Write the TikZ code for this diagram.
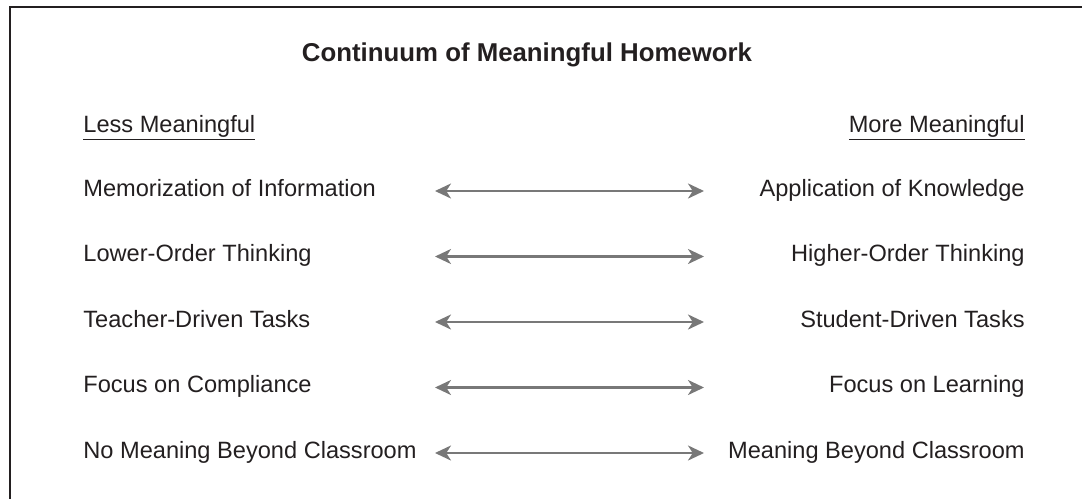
\documentclass[tikz,border=0pt]{standalone}
\usepackage{fontspec}
\setmainfont{Liberation Sans}
\usepackage{xcolor}
\usetikzlibrary{arrows.meta}
\definecolor{inkgray}{HTML}{231F20}
\definecolor{arrowgray}{HTML}{787878}
\tikzset{
  lbl/.style={inner sep=0pt, text=inkgray, font=\fontsize{11.8}{14}\selectfont,
    text height=0.72em, text depth=0.21em},
  ttl/.style={inner sep=0pt, text=inkgray, font=\fontsize{12.9}{15}\selectfont\bfseries},
  biarrow/.style={arrowgray, line width=1.25pt,
    {Stealth[length=8pt,width=7.5pt,inset=2.4pt]}-{Stealth[length=8pt,width=7.5pt,inset=2.4pt]}}
}

\begin{document}
\begin{tikzpicture}[x=0.5pt, y=-0.5pt]
                \useasboundingbox (0,0) rectangle (1082,499);
                \draw[inkgray, line width=1pt] (1082,7) -- (10,7) -- (10,499);
                \node[ttl] (title) at (527,55) {Continuum of Meaningful Homework};
                \node[lbl, anchor=west] (lesshead) at (83,127) {\underline{Less Meaningful}};
                \node[lbl, anchor=east] (morehead) at (1025,127) {\underline{More Meaningful}};
                \coordinate (lessend) at (435,0);
                \coordinate (moreend) at (704,0);
                \foreach \i/\ltext/\rtext in {1/Memorization of Information/Application of Knowledge,
                  2/Lower-Order Thinking/Higher-Order Thinking,
                  3/Teacher-Driven Tasks/Student-Driven Tasks,
                  4/Focus on Compliance/Focus on Learning,
                  5/No Meaning Beyond Classroom/Meaning Beyond Classroom}
                {
                \node[lbl, anchor=west] (less\i) at (83,{191+65.5*(\i-1)}) {\ltext};
                \node[lbl, anchor=east] (more\i) at (1025,{191+65.5*(\i-1)}) {\rtext};
                \draw[biarrow] (less\i.east -| lessend) -- (more\i.west -| moreend);
                }
            \end{tikzpicture}
\end{document}
